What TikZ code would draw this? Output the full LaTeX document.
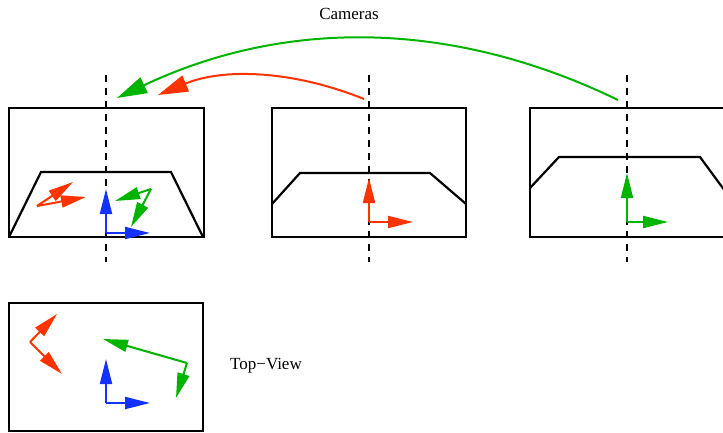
\documentclass[tikz,border=0pt]{standalone}
\usepackage{fontspec}
\setmainfont{Liberation Serif}
\usetikzlibrary{arrows.meta}
\definecolor{camred}{RGB}{255,51,0}
\definecolor{camgreen}{RGB}{0,180,0}
\definecolor{camblue}{RGB}{20,50,255}

\begin{document}
\begin{tikzpicture}[x=0.5pt, y=-0.5pt,
        frame/.style={black, line width=1.1pt},
        optaxis/.style={black, line width=1.1pt, dash pattern=on 3.5pt off 3pt},
        vec/.style={line width=1pt, -{Triangle[length=12.5pt, width=6pt]}},
        link/.style={line width=1pt, -{Triangle[length=15pt, width=8.5pt]}},
        lbl/.style={font=\fontsize{8.5}{10}\selectfont}]
            \useasboundingbox (0,0) rectangle (723,433);
            % camera images
            \draw[frame] (9,108) rectangle (204,237);
            \draw[frame] (272,108) rectangle (466,237);
            \draw[frame] (530,108) rectangle (725,237);
            \draw[frame] (9,237) -- (41,172) -- (171,172) -- (203,237);
            \draw[frame] (272,204) -- (300,173) -- (430,173) -- (466,204);
            \draw[frame] (530,188) -- (559,157) -- (700,157) -- (725,191);
            % optical axes
            \draw[optaxis] (106,75) -- (106,262);
            \draw[optaxis] (369,75) -- (369,262);
            \draw[optaxis] (627,75) -- (627,262);
            % top view
            \draw[frame] (9,303) rectangle (203,431);
            \node[lbl] (cams) at (349,14) {Cameras};
            \node[lbl] (top) at (266,366) {Top−View};
            % camera centres and arrow ends
            \coordinate (c2) at (364,99);
            \coordinate (c3) at (618,100);
            \coordinate (r1) at (158,95);
            \coordinate (g1) at (117,98);
            \draw[link, camgreen] (c3) .. controls (451,19) and (284,19) .. (g1);
            \draw[link, camred] (c2) .. controls (292,70) and (223,68) .. (r1);
            % frames seen in camera 1
            \coordinate (b0) at (106,233);
            \draw[vec, camblue] (b0) -- (106,189);
            \draw[vec, camblue] (b0) -- (150,233);
            \coordinate (ra) at (37,206);
            \draw[vec, camred] (ra) -- (73,182);
            \draw[vec, camred] (ra) -- (86,197);
            \coordinate (ga) at (151,189);
            \draw[vec, camgreen] (ga) -- (115,201);
            \draw[vec, camgreen] (ga) -- (131,227);
            % own frames
            \coordinate (rb) at (369,222);
            \draw[vec, camred] (rb) -- (369,178);
            \draw[vec, camred] (rb) -- (413,222);
            \coordinate (gb) at (627,222);
            \draw[vec, camgreen] (gb) -- (627,173);
            \draw[vec, camgreen] (gb) -- (668,222);
            % top view frames
            \coordinate (tb) at (106,403);
            \draw[vec, camblue] (tb) -- (106,359);
            \draw[vec, camblue] (tb) -- (150,403);
            \coordinate (tr) at (30,342);
            \draw[vec, camred] (tr) -- (57,314);
            \draw[vec, camred] (tr) -- (62,374);
            \coordinate (tg) at (187,363);
            \draw[vec, camgreen] (tg) -- (103,339);
            \draw[vec, camgreen] (tg) -- (176,398);
\end{tikzpicture}
\end{document}
